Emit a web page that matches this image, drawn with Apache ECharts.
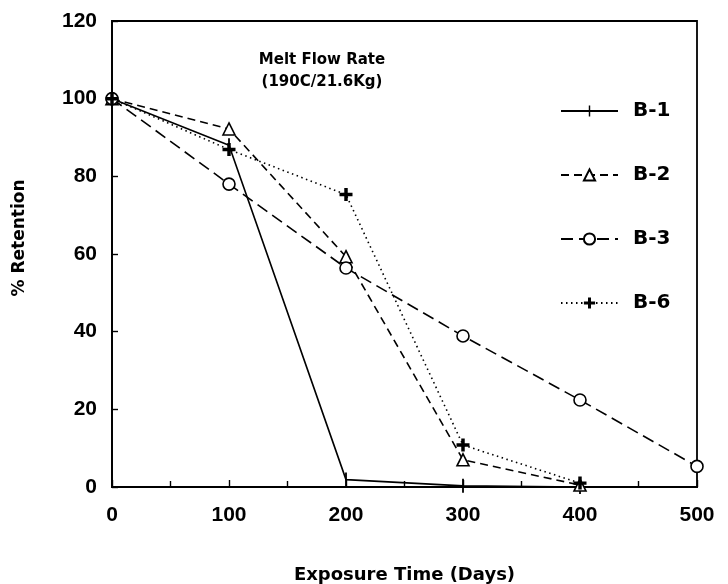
<!DOCTYPE html>
<html><head><meta charset="utf-8">
<script src="https://cdn.jsdelivr.net/npm/echarts@6/dist/echarts.min.js"></script>
<style>html,body{margin:0;padding:0;background:#fff}#c{width:728px;height:584px}</style>
</head><body><div id="c"></div>
<script>
var days = [0, 100, 200, 300, 400, 500];
var b1 = [100, 88, 1.9, 0.3, 0];
var b2 = [100, 92.2, 59.3, 7, 0.5];
var b3 = [100, 78, 56.4, 38.9, 22.4, 5.3];
var b6 = [100, 86.9, 75.3, 10.8, 1];
var yTicks = [0, 20, 40, 60, 80, 100, 120];
var titleLines = ['Melt Flow Rate', '(190C/21.6Kg)'];

function pairs(v){ return v.map(function(y,i){ return [days[i], y]; }); }
var FONT = 'DejaVu Sans, sans-serif';
var NUMFONT = 'Liberation Sans, Arial, sans-serif';
var bar = 'path://M-7,-7L-7,-7Z M7,7L7,7Z M-0.9,-7L0.9,-7L0.9,7L-0.9,7Z';
var boldPlus = 'path://M-1.6,-6L1.6,-6L1.6,-1.6L6,-1.6L6,1.6L1.6,1.6L1.6,6L-1.6,6L-1.6,1.6L-6,1.6L-6,-1.6L-1.6,-1.6Z';

var chart = echarts.init(document.getElementById('c'), null, {renderer:'canvas'});
function ser(name, data, type, symbol, size, filled){
  return {
    name: name, type: 'line', data: pairs(data), clip: false,
    symbol: symbol, symbolSize: size, showSymbol: true,
    lineStyle: {color:'#000', width: 1.6, type: type},
    itemStyle: {color: filled ? '#000' : '#fff', borderColor:'#000', borderWidth: filled ? 0 : 1.6},
    emphasis: {disabled: true}, animation: false
  };
}
chart.setOption({
  backgroundColor: '#fff',
  animation: false,
  title: {
    text: titleLines.join('\n'), left: 317, top: 44, textAlign: 'center',
    textStyle: {fontFamily: FONT, fontSize: 15, fontWeight: 'bold', color:'#000', lineHeight: 22}
  },
  legend: {
    orient: 'vertical', left: 555, top: 96, itemGap: 44, itemWidth: 57, itemHeight: 14,
    textStyle: {fontFamily: FONT, fontSize: 20, fontWeight: 'bold', color:'#000', lineHeight: 20, padding:[0,0,0,10]},
    data: ['B-1','B-2','B-3','B-6']
  },
  grid: {left: 112, right: 31, top: 21, bottom: 97, outerBoundsMode: 'none', containLabel: false,
    show: true, borderColor:'#000', borderWidth: 1.8, backgroundColor:'transparent'},
  xAxis: {
    type: 'value', min: 0, max: 500, interval: 100,
    name: 'Exposure Time (Days)', nameLocation: 'middle', nameGap: 79,
    nameTextStyle: {fontFamily: FONT, fontSize: 18, fontWeight: 'bold', color:'#000'},
    axisLine: {lineStyle:{color:'#000', width:1.8}},
    axisTick: {inside: true, length: 7, lineStyle:{color:'#000', width:1.4}},
    minorTick: {show: true, splitNumber: 2, length: 6, lineStyle:{color:'#000', width:1.4}},
    axisLabel: {fontFamily: NUMFONT, fontSize: 21, fontWeight: 'bold', color:'#000', margin: 18},
    splitLine: {show:false}
  },
  yAxis: {
    type: 'value', min: yTicks[0], max: yTicks[yTicks.length-1], interval: 20,
    name: '% Retention', nameLocation: 'middle', nameGap: 84, nameRotate: 90,
    nameTextStyle: {fontFamily: FONT, fontSize: 17, fontWeight: 'bold', color:'#000', padding:[0,0,0,32]},
    axisLine: {lineStyle:{color:'#000', width:1.8}},
    axisTick: {inside: true, length: 6, lineStyle:{color:'#000', width:1.4}},
    axisLabel: {fontFamily: NUMFONT, fontSize: 21, fontWeight: 'bold', color:'#000', margin: 15},
    splitLine: {show:false}
  },
  series: [
    ser('B-1', b1, 'solid', bar, 14, true),
    ser('B-2', b2, [8,5], 'triangle', 12, false),
    ser('B-3', b3, [12,6], 'circle', 12, false),
    ser('B-6', b6, [1.5,3.5], boldPlus, 13, true)
  ]
});
</script></body></html>
